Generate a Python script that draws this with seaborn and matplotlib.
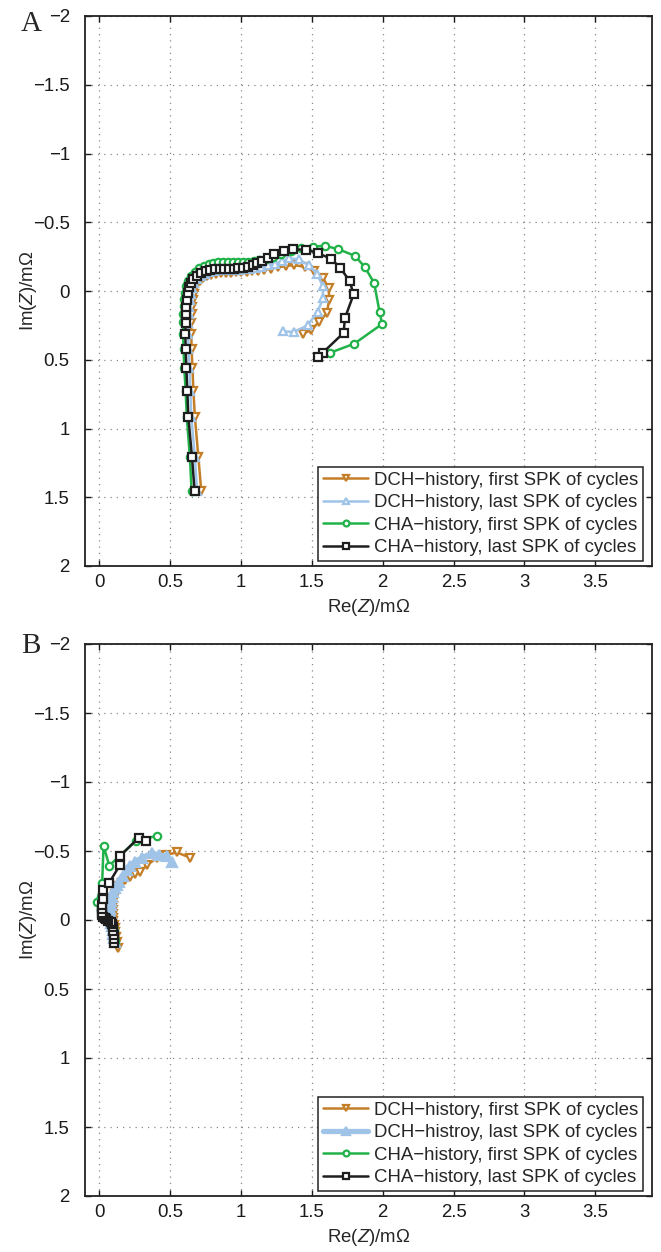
import numpy as np
import pandas as pd
import matplotlib
matplotlib.use("Agg")
import matplotlib.pyplot as plt
import seaborn as sns

# ---------------- data ----------------
labels_A = ["DCH\u2212history, first SPK of cycles",
            "DCH\u2212history, last SPK of cycles",
            "CHA\u2212history, first SPK of cycles",
            "CHA\u2212history, last SPK of cycles"]
labels_B = ["DCH\u2212history, first SPK of cycles",
            "DCH\u2212histroy, last SPK of cycles",
            "CHA\u2212history, first SPK of cycles",
            "CHA\u2212history, last SPK of cycles"]

xticks = [0, 0.5, 1, 1.5, 2, 2.5, 3, 3.5]
xtick_labels = ["0", "0.5", "1", "1.5", "2", "2.5", "3", "3.5"]
yticks = [-2, -1.5, -1, -0.5, 0, 0.5, 1, 1.5, 2]
ytick_labels = ["\u22122", "\u22121.5", "\u22121", "\u22120.5", "0", "0.5", "1", "1.5", "2"]

# Panel A
a_dch_first_re = [0.72, 0.70, 0.675, 0.665, 0.658, 0.652, 0.650, 0.650, 0.652, 0.655, 0.660, 0.667, 0.678,
                  0.693, 0.712, 0.735, 0.762, 0.792, 0.825, 0.860, 0.895, 0.930, 0.965, 1.000, 1.040, 1.080,
                  1.120, 1.165, 1.210, 1.260, 1.320, 1.376, 1.450, 1.518, 1.580, 1.619, 1.623, 1.605, 1.553,
                  1.494, 1.436]
a_dch_first_im = [1.452, 1.21, 0.914, 0.727, 0.558, 0.422, 0.315, 0.23, 0.167, 0.114, 0.065, 0.02, -0.02,
                  -0.05, -0.075, -0.095, -0.11, -0.12, -0.126, -0.13, -0.132, -0.134, -0.135, -0.137, -0.14,
                  -0.143, -0.148, -0.155, -0.163, -0.172, -0.182, -0.189, -0.175, -0.145, -0.095, -0.02, 0.065,
                  0.162, 0.223, 0.284, 0.313]

a_dch_last_re = [0.69, 0.675, 0.65, 0.643, 0.636, 0.63, 0.628, 0.629, 0.631, 0.634, 0.64, 0.646, 0.657, 0.672,
                 0.692, 0.716, 0.745, 0.776, 0.809, 0.843, 0.878, 0.913, 0.948, 0.983, 1.02, 1.06, 1.10, 1.145,
                 1.19, 1.24, 1.29, 1.342, 1.407, 1.478, 1.537, 1.577, 1.58, 1.541, 1.471, 1.372, 1.295]
a_dch_last_im = [1.452, 1.21, 0.914, 0.727, 0.558, 0.422, 0.315, 0.23, 0.167, 0.114, 0.065, 0.02, -0.022,
                 -0.055, -0.085, -0.108, -0.125, -0.137, -0.145, -0.15, -0.152, -0.153, -0.154, -0.155, -0.158,
                 -0.162, -0.168, -0.177, -0.188, -0.2, -0.215, -0.238, -0.23, -0.189, -0.124, -0.036, 0.053,
                 0.15, 0.25, 0.298, 0.293]

a_cha_first_re = [0.652, 0.640, 0.618, 0.610, 0.600, 0.595, 0.592, 0.592, 0.593, 0.595, 0.600, 0.605, 0.615,
                  0.630, 0.650, 0.675, 0.705, 0.738, 0.772, 0.806, 0.840, 0.875, 0.910, 0.945, 0.980, 1.015,
                  1.050, 1.090, 1.130, 1.175, 1.225, 1.285, 1.350, 1.424, 1.506, 1.590, 1.685, 1.806, 1.875,
                  1.940, 1.978, 1.996, 1.800, 1.630]
a_cha_first_im = [1.452, 1.21, 0.914, 0.727, 0.558, 0.420, 0.312, 0.227, 0.165, 0.11, 0.06, 0.012, -0.035,
                  -0.075, -0.11, -0.14, -0.165, -0.183, -0.195, -0.203, -0.208, -0.211, -0.213, -0.213, -0.212,
                  -0.212, -0.213, -0.218, -0.225, -0.235, -0.25, -0.27, -0.29, -0.315, -0.322, -0.329, -0.305,
                  -0.255, -0.172, -0.058, 0.153, 0.240, 0.383, 0.449]

a_cha_last_re = [0.673, 0.655, 0.629, 0.622, 0.615, 0.610, 0.608, 0.610, 0.612, 0.614, 0.620, 0.624, 0.634,
                 0.647, 0.664, 0.690, 0.720, 0.751, 0.784, 0.817, 0.849, 0.882, 0.915, 0.948, 0.981, 1.013,
                 1.049, 1.084, 1.112, 1.150, 1.190, 1.236, 1.305, 1.365, 1.462, 1.541, 1.635, 1.699, 1.766,
                 1.795, 1.734, 1.724, 1.577, 1.546]
a_cha_last_im = [1.452, 1.21, 0.914, 0.727, 0.558, 0.422, 0.315, 0.23, 0.167, 0.114, 0.065, 0.017, -0.027,
                 -0.06, -0.087, -0.111, -0.131, -0.145, -0.155, -0.160, -0.162, -0.162, -0.162, -0.162, -0.165,
                 -0.170, -0.177, -0.187, -0.201, -0.220, -0.240, -0.267, -0.289, -0.303, -0.300, -0.276, -0.235,
                 -0.170, -0.075, 0.024, 0.196, 0.305, 0.449, 0.480]

# Panel B
b_dch_first_re = [0.13, 0.125, 0.12, 0.115, 0.11, 0.105, 0.10, 0.097, 0.095, 0.095, 0.097, 0.10, 0.105, 0.113,
                  0.123, 0.14, 0.158, 0.185, 0.217, 0.25, 0.288, 0.34, 0.405, 0.47, 0.547, 0.641]
b_dch_first_im = [0.2, 0.16, 0.12, 0.09, 0.06, 0.035, 0.01, -0.015, -0.04, -0.07, -0.1, -0.13, -0.16, -0.19,
                  -0.217, -0.243, -0.268, -0.29, -0.314, -0.33, -0.35, -0.40, -0.447, -0.47, -0.49, -0.452]

b_dch_last_re = [0.11, 0.105, 0.10, 0.095, 0.09, 0.085, 0.08, 0.078, 0.077, 0.078, 0.08, 0.085, 0.092, 0.10,
                 0.11, 0.123, 0.14, 0.165, 0.194, 0.22, 0.252, 0.30, 0.37, 0.42, 0.476, 0.512]
b_dch_last_im = [0.16, 0.13, 0.1, 0.07, 0.045, 0.02, -0.005, -0.03, -0.055, -0.08, -0.11, -0.14, -0.17, -0.2,
                 -0.23, -0.255, -0.278, -0.32, -0.36, -0.39, -0.423, -0.45, -0.483, -0.47, -0.464, -0.423]

b_cha_first_re = [0.11, 0.107, 0.104, 0.10, 0.09, 0.07, 0.04, 0.01, -0.018, 0.021, 0.031, 0.071, 0.26, 0.405]
b_cha_first_im = [0.15, 0.12, 0.08, 0.05, 0.02, 0.0, -0.03, -0.07, -0.133, -0.27, -0.539, -0.394, -0.575, -0.609]

b_cha_last_re = [0.106, 0.105, 0.104, 0.10, 0.097, 0.09, 0.08, 0.065, 0.05, 0.04, 0.03, 0.022, 0.017, 0.017,
                 0.017, 0.028, 0.028, 0.071, 0.147, 0.147, 0.28, 0.33]
b_cha_last_im = [0.17, 0.14, 0.11, 0.08, 0.05, 0.03, 0.015, 0.005, -0.005, -0.015, -0.025, -0.035, -0.05, -0.08,
                 -0.109, -0.152, -0.217, -0.27, -0.40, -0.464, -0.597, -0.573]

# ---------------- style ----------------
sns.set_theme(style="white")
plt.rcParams["font.family"] = ["Liberation Sans", "DejaVu Sans"]
plt.rcParams["mathtext.fontset"] = "custom"
plt.rcParams["mathtext.rm"] = "Liberation Sans"
plt.rcParams["mathtext.it"] = "Liberation Sans:italic"
plt.rcParams["axes.unicode_minus"] = True

C_OR = "#C47E28"
C_BL = "#A0C4E8"
C_GR = "#22B24A"
C_BK = "#1E1E1E"

FS = 13.4

fig = plt.figure(figsize=(6.61, 12.52), dpi=100)
axA = fig.add_axes([85 / 661, 1 - 566 / 1252, (652 - 85) / 661, (566 - 16) / 1252])
axB = fig.add_axes([85 / 661, 1 - 1196 / 1252, (652 - 85) / 661, (1196 - 644) / 1252])

OHM = "\u03A9"


def draw(ax, series, labels):
    for (re, im, style), lab in zip(series, labels):
        df = pd.DataFrame({"re": re, "im": im})
        sns.lineplot(data=df, x="re", y="im", sort=False, estimator=None, ax=ax,
                     label=lab, **style)
    ax.set_xlim(-0.1, 3.9)
    ax.set_ylim(2, -2)
    ax.set_xticks(xticks)
    ax.set_xticklabels(xtick_labels)
    ax.set_yticks(yticks)
    ax.set_yticklabels(ytick_labels)
    ax.tick_params(direction="in", length=4, width=1, top=True, right=True,
                   labelsize=FS, colors="#1a1a1a", bottom=True, left=True)
    ax.tick_params(axis="x", pad=6)
    ax.tick_params(axis="y", pad=11)
    ax.grid(True, linestyle=(0, (1, 4)), color="#8a8a8a", linewidth=0.9)
    for s in ax.spines.values():
        s.set_color("#222222")
        s.set_linewidth(1.3)
    ax.set_xlabel(r"Re($\mathit{Z}$)/m" + OHM, fontsize=FS, labelpad=4)
    ax.set_ylabel(r"Im($\mathit{Z}$)/m" + OHM, fontsize=FS)
    ax.yaxis.set_label_coords(-0.082, 0.5)
    leg = ax.legend(loc="lower right", bbox_to_anchor=(0.984, 0.009), fontsize=FS, frameon=True,
                    fancybox=False, edgecolor="#222222", framealpha=1, borderpad=0.25,
                    labelspacing=0.3, handlelength=2.45, handletextpad=0.3, borderaxespad=0.0,
                    markerscale=0.8)
    leg.get_frame().set_linewidth(1.1)


ms = 5.3
lw = 1.8
mew = 1.6
stA = [
    dict(color=C_OR, lw=lw, marker="v", markersize=ms + 0.8, markerfacecolor="white",
         markeredgecolor=C_OR, markeredgewidth=mew),
    dict(color=C_BL, lw=lw, marker="^", markersize=ms + 0.8, markerfacecolor="white",
         markeredgecolor=C_BL, markeredgewidth=mew),
    dict(color=C_GR, lw=lw, marker="o", markersize=ms, markerfacecolor="white",
         markeredgecolor=C_GR, markeredgewidth=mew),
    dict(color=C_BK, lw=lw, marker="s", markersize=ms, markerfacecolor="white",
         markeredgecolor=C_BK, markeredgewidth=mew),
]
stB = [
    dict(color=C_OR, lw=lw, marker="v", markersize=ms + 0.8, markerfacecolor="white",
         markeredgecolor=C_OR, markeredgewidth=mew),
    dict(color=C_BL, lw=3.8, marker="^", markersize=ms + 1.6, markerfacecolor=C_BL,
         markeredgecolor=C_BL, markeredgewidth=mew),
    dict(color=C_GR, lw=lw, marker="o", markersize=ms, markerfacecolor="white",
         markeredgecolor=C_GR, markeredgewidth=mew),
    dict(color=C_BK, lw=lw, marker="s", markersize=ms, markerfacecolor="white",
         markeredgecolor=C_BK, markeredgewidth=mew),
]

draw(axA, [(a_dch_first_re, a_dch_first_im, stA[0]),
           (a_dch_last_re, a_dch_last_im, stA[1]),
           (a_cha_first_re, a_cha_first_im, stA[2]),
           (a_cha_last_re, a_cha_last_im, stA[3])], labels_A)
draw(axB, [(b_dch_first_re, b_dch_first_im, stB[0]),
           (b_dch_last_re, b_dch_last_im, stB[1]),
           (b_cha_first_re, b_cha_first_im, stB[2]),
           (b_cha_last_re, b_cha_last_im, stB[3])], labels_B)

fig.text(31 / 661, 1 - 24 / 1252, "A", ha="center", va="center",
         fontfamily="Liberation Serif", fontsize=21)
fig.text(31 / 661, 1 - 646 / 1252, "B", ha="center", va="center",
         fontfamily="Liberation Serif", fontsize=21)

fig.savefig("out.png", dpi=100)
